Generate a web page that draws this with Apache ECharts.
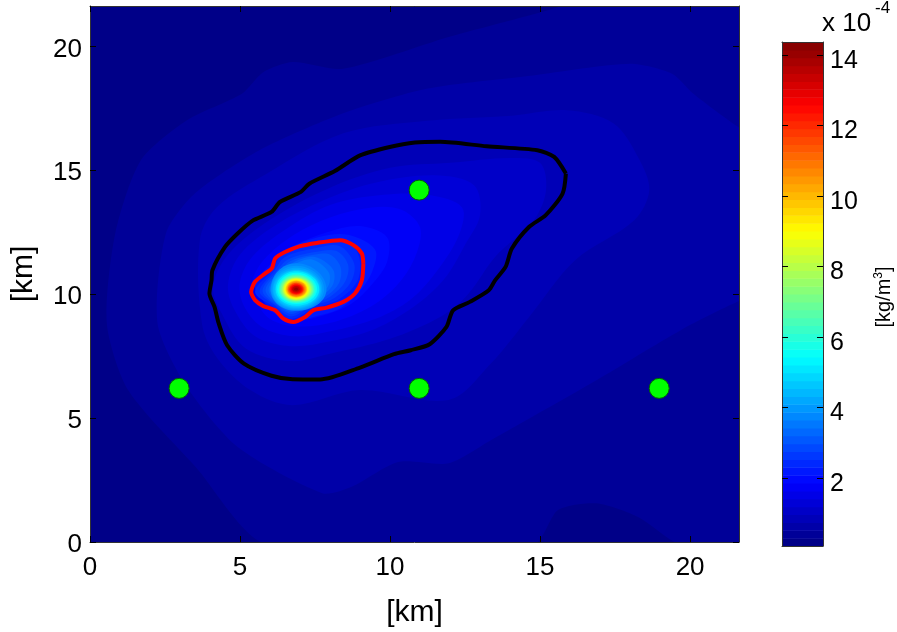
<!DOCTYPE html>
<html>
<head>
<meta charset="utf-8">
<style>html,body{margin:0;padding:0;background:#fff}#c{width:897px;height:632px}</style>
<script src="https://cdn.jsdelivr.net/npm/echarts@6/dist/echarts.min.js"></script>
</head>
<body>
<div id="c"></div>
<script>
// Tick labels
const planeTicks = [0, 5, 10, 15, 20];
const colorTicks = [2, 4, 6, 8, 10, 12, 14];
// Axis ranges
const planeMax = 21.63;
const colorMin = 0.07, colorMax = 14.37;
// Sensor positions [km]
const sensors = [[2.97, 6.2], [10.97, 14.2], [10.97, 6.2], [18.97, 6.2]];
// Black and red iso-lines [km]
const blackContour = [[15.86,14.87],[15.75,14.06],[15.19,13.19],[14.63,12.71],[14.06,11.84],[13.85,11.10],[13.5,10.56],[13.29,10.16],[12.66,9.69],[12.10,9.35],[11.88,8.68],[11.32,7.98],[10.69,7.74],[10.13,7.58],[9.0,7.04],[7.67,6.56],[6.75,6.57],[6.05,6.71],[5.13,7.2],[4.57,7.94],[4.29,8.82],[4.15,9.49],[3.98,10.03],[4.05,10.56],[4.08,10.97],[4.5,11.91],[4.92,12.45],[5.41,12.96],[6.05,13.32],[6.33,13.72],[7.03,14.13],[7.31,14.46],[8.16,14.97],[9.0,15.6],[9.99,15.94],[10.83,16.12],[11.67,16.15],[13.22,15.97],[14.91,15.81],[15.47,15.54],[15.86,14.87]];
const redContour = [[9.11,11.24],[9.06,10.56],[8.83,10.03],[8.44,9.69],[7.89,9.46],[7.44,9.35],[7.17,9.08],[6.78,8.88],[6.44,9.02],[6.17,9.35],[5.78,9.52],[5.5,9.76],[5.37,10.09],[5.5,10.5],[5.83,10.83],[6.06,11.04],[6.17,11.44],[6.5,11.7],[7.0,11.94],[7.56,12.07],[8.33,12.18],[8.78,11.98],[9.06,11.64],[9.11,11.24]];
// Density field, outer iso-bands: level [1e-4 kg/m3] and outline [km]
const backgroundLevel = 0.18;
const bandLevels = [0.405, 0.63, 0.85, 1.08, 1.30, 1.52, 1.75, 1.97, 2.19, 2.42, 2.64, 2.86, 3.09, 3.31, 3.53];
const bandOutlines = [
 [[15.9,22],[15.9,21.7],[11.95,20.38],[8.44,19.1],[6.75,19.37],[5.77,18.96],[5.06,18.09],[3.23,17.02],[1.69,15.4],[0.84,12.45],[0.56,8.82],[1.27,6.13],[3.52,3.03],[5.9,-0.1],[14.77,-0.1],[15.6,1.29],[16.88,1.56],[18.28,1.0],[19.69,-0.1],[22,-0.1],[22,22]],
 [[22,16.68],[21.7,16.68],[20.1,18.1],[19.4,18.9],[18.0,19.3],[14.77,18.83],[11.25,18.3],[8.44,17.3],[5.63,15.8],[3.5,14.07],[2.53,12.45],[2.25,8.82],[3.23,6.25],[4.92,3.83],[7.74,1.97],[8.72,2.23],[10.27,3.23],[11.95,3.18],[13.36,4.11],[16.88,6.53],[19.69,8.55],[21.7,9.76],[22,9.76]],
 [[15.9,17.42],[17.44,16.9],[18.28,15.5],[18.64,14.2],[18.14,12.98],[16.17,11.37],[14.63,9.07],[13.36,7.2],[11.95,5.73],[9.0,6.13],[6.75,5.52],[5.34,6.13],[4.22,7.46],[3.73,8.82],[3.66,12.18],[4.22,13.5],[5.9,14.87],[8.44,16.49],[11.25,17.0],[14.06,17.2]],
 [[15,15.3],[15.2,14.2],[14.8,13],[13.5,11.5],[12.6,10],[11.7,9.1],[10,8.2],[8,7.6],[6.7,7.3],[5.2,7.8],[4.4,9.2],[4.1,10.3],[4.6,11.6],[6,13],[8,14.3],[10,15.1],[12,15.3],[14,15.5]],
 [[12.8,14.4],[13,13.2],[12.5,12],[11.8,10.6],[10.8,9.5],[9.5,8.6],[8,8.1],[6.7,7.9],[5.5,8.3],[4.8,9.4],[4.6,10.4],[5,11.6],[6.2,12.8],[7.8,13.8],[9.5,14.5],[11.5,14.8]],
 [[12.4,13.5],[12.3,12.4],[11.6,11],[10.7,9.8],[9.5,9],[8,8.5],[6.8,8.3],[5.7,8.7],[5.1,9.6],[5,10.5],[5.4,11.5],[6.5,12.6],[8,13.6],[9.7,14],[11.3,14]],
 [[11,12.7],[10.9,11.7],[10.4,10.6],[9.5,9.6],[8.2,8.9],[6.9,8.7],[6,9],[5.5,9.8],[5.4,10.5],[5.8,11.4],[6.8,12.4],[8,13.1],[9.4,13.5],[10.4,13.4]],
 [[9.9,12.3],[9.9,11.3],[9.4,10.4],[8.7,9.6],[7.8,9.15],[6.9,8.95],[6.1,9.25],[5.7,9.9],[5.55,10.5],[6,11.2],[6.8,11.95],[7.9,12.5],[9,12.75]],
 [[9.5,11.8],[9.4,10.9],[8.9,10.0],[8.3,9.4],[7.5,9.1],[6.8,8.95],[6.1,9.35],[5.6,10],[5.5,10.4],[6,11.1],[6.5,11.75],[7.6,12.3],[8.6,12.4]],
 [[9.0,11.3],[8.9,10.5],[8.3,9.8],[7.4,9.4],[6.7,9.0],[6.1,9.5],[5.5,10.1],[6.1,11.0],[6.4,11.6],[7.5,12],[8.4,12.1],[8.8,11.9]],
 [[8.8,11.25],[8.7,10.5],[8.15,9.85],[7.35,9.5],[6.7,9.1],[6.1,9.6],[5.65,10.12],[6.15,10.95],[6.5,11.5],[7.5,11.85],[8.3,11.95]],
 [[8.6,11.2],[8.5,10.5],[8,9.9],[7.3,9.55],[6.7,9.2],[6.1,9.65],[5.75,10.15],[6.2,10.9],[6.6,11.4],[7.5,11.7],[8.2,11.75]],
 [[8.35,11.1],[8.3,10.45],[7.85,9.9],[7.25,9.58],[6.7,9.28],[6.15,9.68],[5.85,10.18],[6.25,10.85],[6.7,11.35],[7.5,11.6],[8.0,11.6]],
 [[8.1,11],[8.1,10.4],[7.7,9.9],[7.2,9.6],[6.7,9.35],[6.2,9.7],[5.95,10.2],[6.3,10.8],[6.8,11.3],[7.5,11.5]],
 [[7.95,10.9],[7.95,10.35],[7.6,9.95],[7.15,9.63],[6.75,9.4],[6.25,9.72],[6.0,10.2],[6.3,10.75],[6.8,11.2],[7.4,11.4]]
];
// Density field, peak iso-rings: peak position [km]
const peakX = 6.87, peakY = 10.2;
const ringLevels = [3.76,3.98,4.2,4.43,4.65,5.1,5.54,5.99,6.44,6.88,7.33,7.78,8.22,8.67,9.12,9.56,10.0,10.46,10.9,11.35,11.8,12.24,12.69,13.14,13.58,14.03];
const ringEast  = [7.88,7.8,7.74,7.7,7.66,7.64,7.57,7.52,7.47,7.44,7.4,7.37,7.34,7.3,7.27,7.24,7.22,7.2,7.17,7.14,7.12,7.1,7.07,7.04,6.99,6.94];
const ringNorth = [11.25,11.15,11.07,11.0,10.97,10.93,10.87,10.8,10.76,10.72,10.68,10.66,10.64,10.62,10.6,10.56,10.54,10.52,10.48,10.46,10.44,10.4,10.38,10.34,10.32,10.26];
const ringWest  = [6.02,6.04,6.08,6.11,6.16,6.19,6.24,6.29,6.32,6.35,6.39,6.42,6.44,6.47,6.5,6.52,6.54,6.57,6.59,6.6,6.64,6.65,6.69,6.72,6.75,6.8];
const ringSouth = [9.33,9.36,9.4,9.44,9.48,9.53,9.6,9.64,9.68,9.72,9.74,9.76,9.78,9.8,9.84,9.86,9.88,9.9,9.92,9.96,9.98,10.0,10.02,10.06,10.1,10.14];
// Jet colour map
const jetStops = ['#000080','#0000ff','#0080ff','#00ffff','#80ff80','#ffff00','#ff8000','#ff0000','#800000'];
const colorSteps = 64;

const FONT = '"Liberation Sans", Arial, sans-serif';
const LINE = '#333';

const shapes = [];
const shapeData = [];
shapes.push({ pts: [[-1,23],[-1,-1],[23,-1],[23,23]], smooth: 0 });
shapeData.push([backgroundLevel, 0]);
bandLevels.forEach((v, i) => {
  shapes.push({ pts: bandOutlines[i], smooth: i < 2 ? 0.25 : 0.33 });
  shapeData.push([v, shapes.length - 1]);
});
ringLevels.forEach((v, i) => {
  shapes.push({
    pts: [[ringEast[i], peakY], [peakX, ringSouth[i]], [ringWest[i], peakY], [peakX, ringNorth[i]]],
    smooth: 0.55
  });
  shapeData.push([v, shapes.length - 1]);
});

const stepH = (colorMax - colorMin) / colorSteps;
const barData = [];
for (let i = 0; i < colorSteps; i++) barData.push([colorMin + (i + 0.5) * stepH, i]);

function edgeAxis(gridIndex, position, min, max, ticks) {
  return {
    type: 'value', gridIndex, position, min, max,
    axisLine: { show: true, onZero: false, lineStyle: { color: LINE, width: 1 } },
    axisTick: ticks ? { show: true, inside: true, length: 6, customValues: ticks, lineStyle: { color: '#000', width: 1 } } : { show: false },
    axisLabel: { show: false },
    splitLine: { show: false },
    z: 6
  };
}
function labelled(axis, ticks, extra) {
  axis.axisLabel = Object.assign({ show: true, customValues: ticks, color: '#000', fontFamily: FONT, fontSize: 26, margin: 8 }, extra || {});
  return axis;
}

const chart = echarts.init(document.getElementById('c'), null, { renderer: 'canvas' });
const mainX = labelled(edgeAxis(0, 'bottom', 0, planeMax, planeTicks), planeTicks, { margin: 13 });
Object.assign(mainX, { name: '[km]', nameLocation: 'middle', nameGap: 56, nameTextStyle: { color: '#000', fontFamily: FONT, fontSize: 30 } });
const mainY = labelled(edgeAxis(0, 'left', 0, planeMax, planeTicks), planeTicks, { margin: 8, verticalAlign: 'top', lineHeight: 6 });
Object.assign(mainY, { name: '[km]', nameLocation: 'middle', nameGap: 51, nameTextStyle: { color: '#000', fontFamily: FONT, fontSize: 30 } });
const barRightY = labelled(edgeAxis(1, 'right', colorMin, colorMax, colorTicks), colorTicks, { margin: 7, fontSize: 25, verticalAlign: 'top', lineHeight: 12 });

chart.setOption({
  animation: false,
  backgroundColor: '#fff',
  grid: [
    { left: 90, top: 6, width: 649, height: 536, outerBoundsMode: 'none' },
    { left: 782, top: 42, width: 41, height: 504, outerBoundsMode: 'none' }
  ],
  xAxis: [
    mainX,
    edgeAxis(0, 'top', 0, planeMax, planeTicks),
    edgeAxis(1, 'bottom', 0, 1),
    edgeAxis(1, 'top', 0, 1)
  ],
  yAxis: [
    mainY,
    edgeAxis(0, 'right', 0, planeMax, planeTicks),
    edgeAxis(1, 'left', colorMin, colorMax, colorTicks),
    barRightY
  ],
  visualMap: {
    show: false, type: 'continuous', min: colorMin, max: colorMax, dimension: 0,
    seriesIndex: [0, 4], inRange: { color: jetStops }
  },
  series: [
    {
      type: 'custom', xAxisIndex: 0, yAxisIndex: 0, clip: true, silent: true, z: 2,
      data: shapeData,
      encode: { x: 1, y: 1 },
      renderItem(params, api) {
        const s = shapes[api.value(1)];
        return {
          type: 'polygon',
          shape: { points: s.pts.map(p => api.coord(p)), smooth: s.smooth },
          style: { fill: api.visual('color') }
        };
      }
    },
    {
      type: 'line', xAxisIndex: 0, yAxisIndex: 0, data: blackContour, showSymbol: false, smooth: 0.25, clip: true, z: 3,
      lineStyle: { color: '#000', width: 4 }, silent: true
    },
    {
      type: 'line', xAxisIndex: 0, yAxisIndex: 0, data: redContour, showSymbol: false, smooth: 0.25, clip: true, z: 3,
      lineStyle: { color: '#ff0000', width: 4 }, silent: true
    },
    {
      type: 'scatter', xAxisIndex: 0, yAxisIndex: 0, data: sensors, symbol: 'circle', symbolSize: 20, z: 4,
      itemStyle: { color: '#00ff00', borderColor: '#006400', borderWidth: 1, opacity: 1 }, silent: true
    },
    {
      type: 'custom', xAxisIndex: 2, yAxisIndex: 2, clip: true, silent: true, z: 2,
      data: barData,
      encode: { y: 0 },
      renderItem(params, api) {
        const v = api.value(0);
        const a = api.coord([0, v - stepH / 2]);
        const b = api.coord([1, v + stepH / 2]);
        return {
          type: 'rect',
          shape: { x: a[0], y: b[1], width: b[0] - a[0], height: a[1] - b[1] + 0.5 },
          style: { fill: api.visual('color') }
        };
      }
    }
  ],
  graphic: [
    {
      type: 'text', left: 822, top: 11, z: 10,
      style: { text: 'x 10', fill: '#000', font: '26px ' + FONT }
    },
    {
      type: 'text', left: 875, top: 0, z: 10,
      style: { text: '-4', fill: '#000', font: '17px ' + FONT }
    },
    {
      type: 'text', x: 884, y: 297, rotation: Math.PI / 2, z: 10,
      style: {
        text: '{a|[kg/m}{s|3}{a|]}', align: 'center', verticalAlign: 'middle',
        rich: {
          a: { fill: '#000', fontFamily: FONT, fontSize: 20, lineHeight: 22 },
          s: { fill: '#000', fontFamily: FONT, fontSize: 12, lineHeight: 22, verticalAlign: 'top' }
        }
      }
    }
  ]
});
</script>
</body>
</html>
